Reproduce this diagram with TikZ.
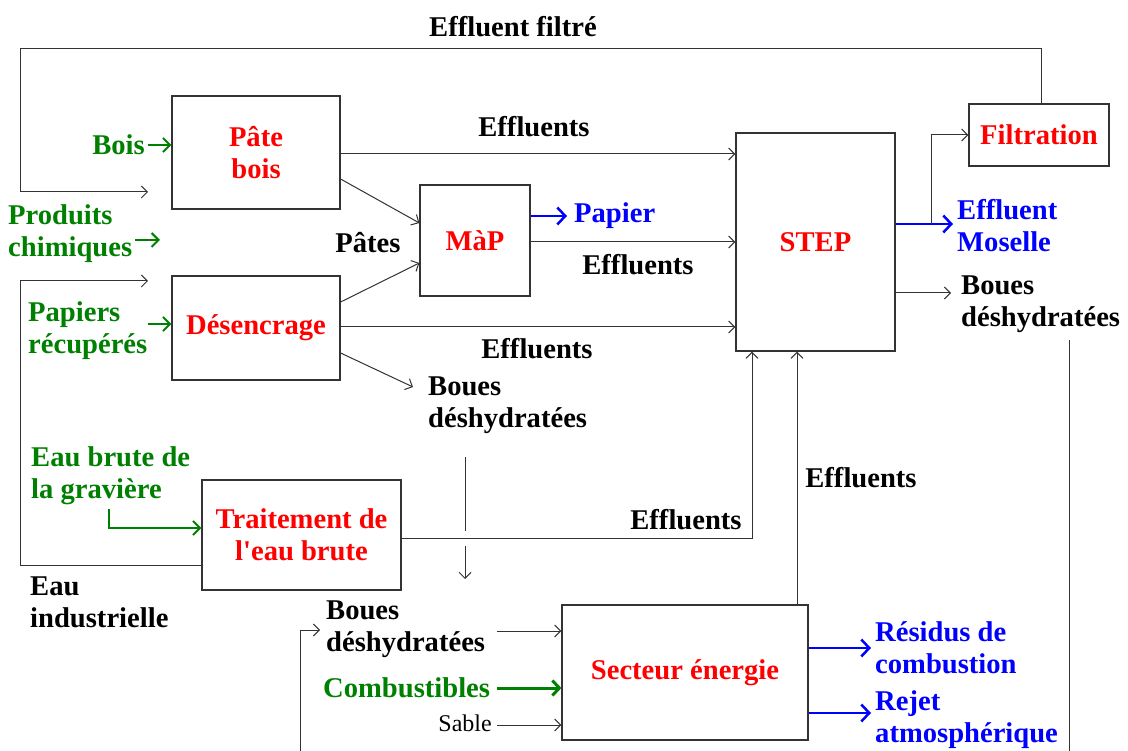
\documentclass[tikz,border=0pt]{standalone}
\usepackage{fontspec}
\setmainfont{Liberation Serif}
\usetikzlibrary{arrows.meta}
\definecolor{gr}{RGB}{0,128,0}
\definecolor{rd}{RGB}{255,0,0}
\definecolor{bl}{RGB}{0,0,255}
\definecolor{lc}{RGB}{51,51,51}
\begin{document}
\begin{tikzpicture}[x=1pt,y=-1pt,
 every node/.style={font=\fontsize{28.6}{32}\selectfont\bfseries, inner sep=0pt},
 box/.style={draw=lc, line width=1.2pt, align=center, text=rd},
 lbl/.style={align=left, anchor=west},
 plain/.style={draw=lc, line width=1pt},
 arr/.style={draw=lc, line width=1pt, -{Straight Barb[length=6pt,width=12pt]}},
 barr/.style={draw=bl, line width=2.5pt, -{Straight Barb[length=8pt,width=17pt]}},
 garr/.style={draw=gr, line width=2pt, -{Straight Barb[length=7pt,width=14pt]}},
 gline/.style={draw=gr, line width=2pt}]
\useasboundingbox (0,0) rectangle (1128,751);
\fill[white] (0,0) rectangle (1128,751);

% boxes
\node[box, minimum width=168pt, minimum height=113pt] (pate) at (256,152.5) {Pâte\\bois};
\node[box, minimum width=168pt, minimum height=104pt] (desen) at (256,328) {Désencrage};
\node[box, minimum width=110pt, minimum height=111pt] (map) at (475,240.5) {MàP};
\node[box, minimum width=159pt, minimum height=218pt] (step) at (815.5,242) {STEP};
\node[box, minimum width=140pt, minimum height=62pt] (filt) at (1039,135) {Filtration};
\node[box, minimum width=199pt, minimum height=110pt] (trait) at (301.5,535) {Traitement de\\l\textquotesingle eau brute};
\node[box, minimum width=246pt, minimum height=135pt] (sect) at (685,672.5) {Secteur énergie};

% labels
\node (efil) at (513,27) {Effluent filtré};
\node[anchor=east, text=gr] (bois) at (145,145) {Bois};
\node[lbl, text=gr] (prod) at (8,234) {Produits\\chimiques};
\node[lbl, text=gr] (papr) at (28,331) {Papiers\\récupérés};
\node (ef1) at (534,127) {Effluents};
\node (pates) at (368,243) {Pâtes};
\node[lbl, text=bl] (papier) at (574,216) {Papier};
\node (ef2) at (638,265) {Effluents};
\node (ef3) at (537,349) {Effluents};
\node[lbl] (boues1) at (428,405) {Boues\\déshydratées};
\node[lbl, text=bl] (mos) at (957,226) {Effluent\\Moselle};
\node[lbl] (boues2) at (961,304) {Boues\\déshydratées};
\node[lbl, text=gr] (eaub) at (31,476) {Eau brute de\\la gravière};
\node (ef4) at (686,520) {Effluents};
\node (ef5) at (861,478) {Effluents};
\node[lbl] (eaui) at (30,602) {Eau\\industrielle};
\node[lbl] (boues3) at (326,629) {Boues\\déshydratées};
\node[lbl, text=gr] (comb) at (323,688) {Combustibles};
\node[anchor=east, font=\fontsize{24}{28}\selectfont] (sable) at (492,723) {Sable};
\node[lbl, text=bl] (resid) at (875,648) {Résidus de\\combustion};
\node[lbl, text=bl] (rejet) at (875,720) {Rejet\\atmosphérique};

% free ends
\coordinate (loop1) at (148,192);
\coordinate (loop2) at (148,281);
\coordinate (pc1) at (135,240);
\coordinate (pc2) at (160,240);
\coordinate (bdend) at (413,387);
\coordinate (v1a) at (465,457);
\coordinate (v1b) at (465,531);
\coordinate (v2a) at (465,546);
\coordinate (v2b) at (465,579);
\coordinate (mosend) at (953,224);
\coordinate (branch) at (931,224);
\coordinate (bd2end) at (951,293);
\coordinate (rv1) at (1069,340);
\coordinate (rv2) at (1069,751);
\coordinate (lb1) at (300,751);
\coordinate (lb2) at (320,630);
\coordinate (resend) at (871,648);
\coordinate (rejend) at (871,713);
\coordinate (papend) at (567,216);
\coordinate (eb1) at (109,509);

% connectors
\draw[arr] (filt.north -| 1041,0) |- (20,49) -- (20,192) -- (loop1);
\draw[arr] (trait.west |- 0,565) -- (20,565) -- (20,281) -- (loop2);
\draw[garr] (148,145) -- (pate.west |- 0,145);
\draw[garr] (pc1) -- (pc2);
\draw[garr] (148,324) -- (desen.west |- 0,324);
\draw[arr] (pate.east |- 0,154) -- (step.west |- 0,154);
\draw[arr] (pate.east |- 0,179) -- (map.west |- 0,223);
\draw[arr] (desen.east |- 0,302) -- (map.west |- 0,263);
\draw[barr] (map.east |- 0,216) -- (papend);
\draw[arr] (map.east |- 0,242) -- (step.west |- 0,242);
\draw[arr] (desen.east |- 0,327) -- (step.west |- 0,327);
\draw[arr] (desen.east |- 0,353) -- (bdend);
\draw[plain] (v1a) -- (v1b);
\draw[arr] (v2a) -- (v2b);
\draw[arr] (trait.east |- 0,538) -| (step.south -| 752,0);
\draw[arr] (sect.north -| 797,0) -- (step.south -| 797,0);
\draw[barr] (step.east |- 0,224) -- (mosend);
\draw[arr] (branch) |- (filt.west);
\draw[arr] (step.east |- 0,293) -- (bd2end);
\draw[plain] (rv1) -- (rv2);
\draw[arr] (lb1) |- (lb2);
\draw[gline] (eb1) |- (160,528);
\draw[garr] (eb1) |- (trait.west |- 0,528);
\draw[arr] (497,631) -- (sect.west |- 0,631);
\draw[draw=gr, line width=3pt, -{Straight Barb[length=7pt,width=15pt]}] (497,688) -- (sect.west |- 0,688);
\draw[arr] (497,725) -- (sect.west |- 0,725);
\draw[barr] (sect.east |- 0,648) -- (resend);
\draw[barr] (sect.east |- 0,713) -- (rejend);
\end{tikzpicture}
\end{document}
